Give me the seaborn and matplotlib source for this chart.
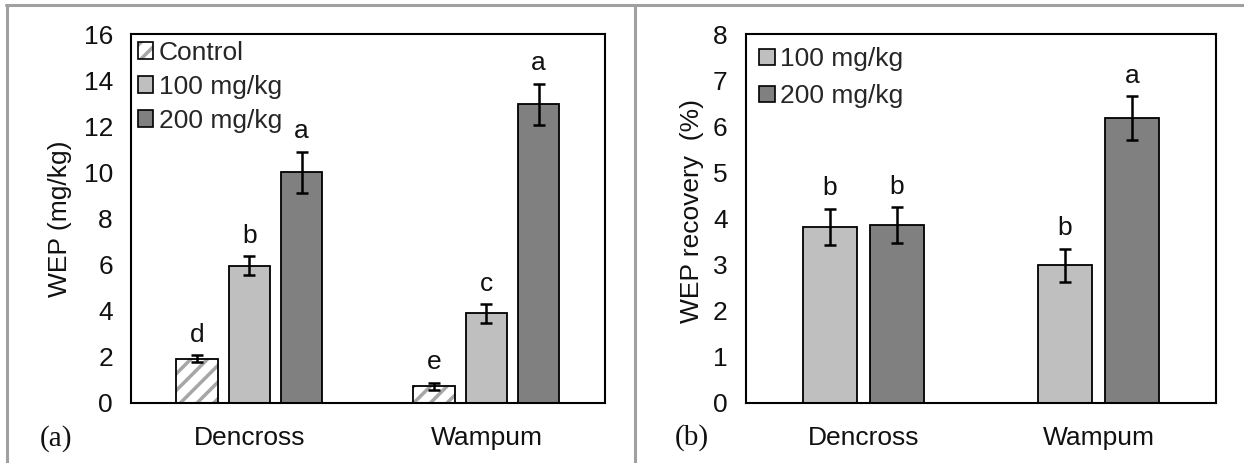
import matplotlib
matplotlib.use("Agg")
import matplotlib.pyplot as plt
from matplotlib.patches import Patch, Rectangle
from matplotlib.lines import Line2D
import seaborn as sns
import pandas as pd

# ---- data -------------------------------------------------------------
sites = ["Dencross", "Wampum"]

wep_treatments = ["Control", "100 mg/kg", "200 mg/kg"]
wep_values = [[1.9, 0.72], [5.95, 3.88], [10.0, 12.95]]
wep_errors = [[0.15, 0.15], [0.4, 0.4], [0.9, 0.9]]
wep_letters = [["d", "e"], ["b", "c"], ["a", "a"]]

rec_treatments = ["100 mg/kg", "200 mg/kg"]
rec_values = [[3.82, 2.98], [3.86, 6.17]]
rec_errors = [[0.39, 0.36], [0.39, 0.48]]
rec_letters = [["b", "b"], ["b", "a"]]

wep_ticks = [0, 2, 4, 6, 8, 10, 12, 14, 16]
rec_ticks = [0, 1, 2, 3, 4, 5, 6, 7, 8]

colors = {"Control": "#FFFFFF", "100 mg/kg": "#BFBFBF", "200 mg/kg": "#808080"}
hatch_gray = "#A6A6A6"

# ---- style ------------------------------------------------------------
sns.set_theme(style="white")
plt.rcParams["font.family"] = ["Liberation Sans", "DejaVu Sans"]
plt.rcParams["hatch.linewidth"] = 2.5
FS = 19
INK = "#111111"


def to_frame(treatments, values):
    rows = []
    for i, t in enumerate(treatments):
        for j, s in enumerate(sites):
            rows.append({"site": s, "treatment": t, "value": values[i][j]})
    return pd.DataFrame(rows)


def draw_panel(ax, treatments, values, errors, letters, ticks, width, ylabel,
               labelspacing, legend_pad):
    df = to_frame(treatments, values)
    sns.barplot(data=df, x="site", y="value", hue="treatment", order=sites,
                hue_order=treatments, palette=[colors[t] for t in treatments],
                width=width, gap=0.2, edgecolor="black", linewidth=1.3,
                errorbar=None, saturation=1, ax=ax, legend=False)
    handles = []
    for i, (t, cont) in enumerate(zip(treatments, ax.containers)):
        for j, bar in enumerate(cont):
            xc = bar.get_x() + bar.get_width() / 2
            if t == "Control":
                # hatched fill in grey, outline redrawn in black on top
                bar.set_edgecolor(hatch_gray)
                bar.set_hatch("//")
                bar.set_linewidth(0)
                ax.add_patch(Rectangle((bar.get_x(), bar.get_y()), bar.get_width(),
                                       bar.get_height(), fill=False,
                                       edgecolor="black", linewidth=1.3,
                                       zorder=bar.get_zorder() + 0.1))
            ax.errorbar(xc, values[i][j], yerr=errors[i][j], fmt="none",
                        ecolor="black", elinewidth=1.8, capsize=4, capthick=1.8, zorder=5)
            ax.annotate(letters[i][j], (xc, values[i][j] + errors[i][j]),
                        xytext=(0, 6), textcoords="offset points",
                        ha="center", va="bottom", fontsize=FS, color=INK)
        if t == "Control":
            h = (Patch(facecolor="white", edgecolor=hatch_gray, hatch="//", linewidth=0),
                 Patch(facecolor="none", edgecolor="black", linewidth=1.2))
        else:
            h = Patch(facecolor=colors[t], edgecolor="black", linewidth=1.2)
        handles.append(h)
    ax.legend(handles, treatments, loc="upper left", frameon=False, fontsize=FS,
              handlelength=0.6, handleheight=0.6, handletextpad=0.2,
              labelspacing=labelspacing, borderaxespad=legend_pad, borderpad=0.15)
    ax.set_ylim(ticks[0], ticks[-1])
    ax.set_yticks(ticks)
    ax.set_xlim(-0.5, 1.5)
    ax.set_xlabel("")
    ax.set_ylabel(ylabel, fontsize=FS, color=INK)
    ax.tick_params(axis="both", length=0, labelsize=FS, labelcolor=INK)
    ax.tick_params(axis="y", pad=13)
    ax.tick_params(axis="x", pad=17)
    for sp in ax.spines.values():
        sp.set_visible(True)
        sp.set_color("black")
        sp.set_linewidth(1.5)


fig = plt.figure(figsize=(12.44, 4.63), dpi=100)
fig.patch.set_facecolor("white")

ax1 = fig.add_axes([0.1053, 0.1302, 0.3810, 0.7963])
ax2 = fig.add_axes([0.5994, 0.1302, 0.3781, 0.7963])

draw_panel(ax1, wep_treatments, wep_values, wep_errors, wep_letters, wep_ticks,
           0.66, "WEP (mg/kg)", 0.38, 0.1)
draw_panel(ax2, rec_treatments, rec_values, rec_errors, rec_letters, rec_ticks,
           0.572, "WEP recovery  (%)", 0.5, 0.35)
ax1.yaxis.set_label_coords(-0.125, 0.5)
ax2.yaxis.set_label_coords(-0.088, 0.52)

fig.text(0.045, 0.052, "(a)", family="Liberation Serif", fontsize=21,
         ha="center", va="center", color=INK)
fig.text(0.556, 0.056, "(b)", family="Liberation Serif", fontsize=21,
         ha="center", va="center", color=INK)

# panel frames
frame_kw = dict(color="#A0A0A0", linewidth=2.2, transform=fig.transFigure)
fig.add_artist(Line2D([0.005, 1.0], [0.989, 0.989], **frame_kw))
fig.add_artist(Line2D([0.0056, 0.0056], [0.0, 0.989], **frame_kw))
fig.add_artist(Line2D([0.5105, 0.5105], [0.0, 0.989], **frame_kw))

fig.savefig("out.png", dpi=100, facecolor="white")
